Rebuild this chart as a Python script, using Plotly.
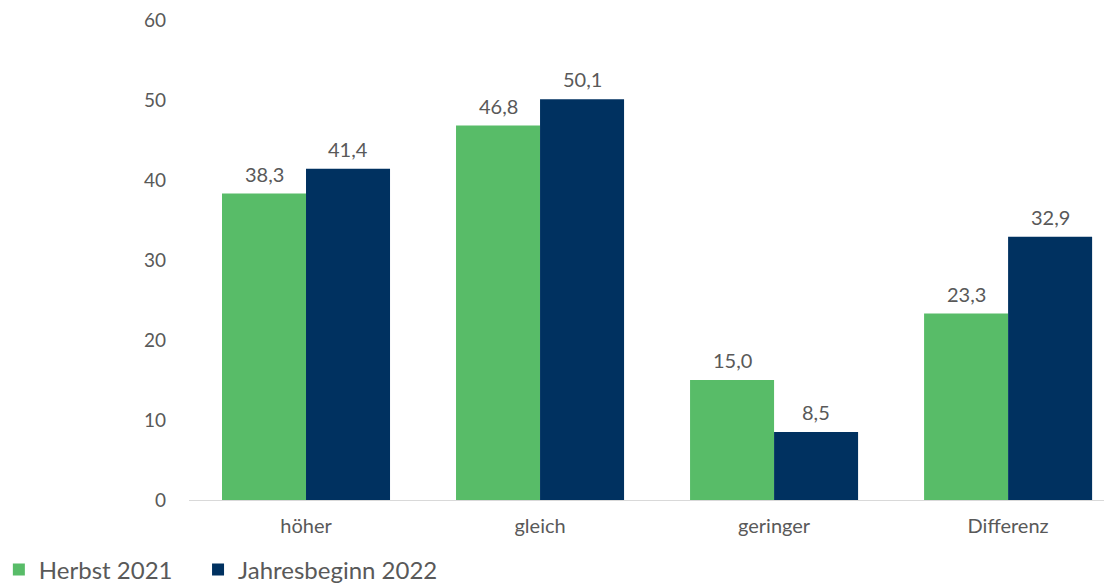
import plotly.graph_objects as go

categories = ['höher', 'gleich', 'geringer', 'Differenz']
herbst_2021 = [38.3, 46.8, 15.0, 23.3]
jahresbeginn_2022 = [41.4, 50.1, 8.5, 32.9]
series_names = ['Herbst 2021', 'Jahresbeginn 2022']
y_ticks = [0, 10, 20, 30, 40, 50, 60]

GREEN = '#58BC68'
NAVY = '#003160'
GREY = '#595959'
FONT = 'Lato, Open Sans, sans-serif'


def fmt(v):
    # German decimal comma
    return f'{v:.1f}'.replace('.', ',')


fig = go.Figure()
series = [(series_names[0], herbst_2021, GREEN, -42, 'legend'),
          (series_names[1], jahresbeginn_2022, NAVY, 42, 'legend2')]
for name, values, colour, shift, leg in series:
    fig.add_trace(go.Bar(
        x=categories,
        y=values,
        name=name,
        legend=leg,
        marker=dict(color=colour, line=dict(width=0)),
    ))
    # value labels sit a bit higher above the bars than plotly's own
    for cat, v in zip(categories, values):
        fig.add_annotation(x=cat, y=v, text=fmt(v), showarrow=False,
                           xshift=shift, yshift=20, yanchor='middle',
                           font=dict(size=20, color=GREY, family=FONT))

legend_style = dict(
    orientation='h',
    xref='paper', yref='container',
    y=0.036, xanchor='left', yanchor='middle',
    font=dict(size=24, color=GREY),
    itemwidth=30,
)

fig.update_layout(
    width=1112,
    height=583,
    barmode='group',
    bargap=0.282,
    bargroupgap=0,
    plot_bgcolor='white',
    paper_bgcolor='white',
    font=dict(family=FONT, color=GREY, size=19),
    margin=dict(l=181, r=8, t=12, b=91, autoexpand=False),
    showlegend=True,
    legend=dict(x=-0.206, **legend_style),
    legend2=dict(x=0.0098, **legend_style),
    xaxis=dict(
        range=[-0.5, 3.444],
        showline=True,
        linecolor='#d9d9d9',
        linewidth=1,
        showgrid=False,
        ticks='',
        ticklabelstandoff=8,
        automargin=False,
        tickfont=dict(size=20, color=GREY),
    ),
    yaxis=dict(
        range=[0, 60],
        tickvals=y_ticks,
        showgrid=False,
        zeroline=False,
        showline=False,
        ticks='',
        ticklabelstandoff=22,
        ticklabeloverflow='allow',
        automargin=False,
        tickfont=dict(size=19, color=GREY),
    ),
)

fig.write_html('out.html')
